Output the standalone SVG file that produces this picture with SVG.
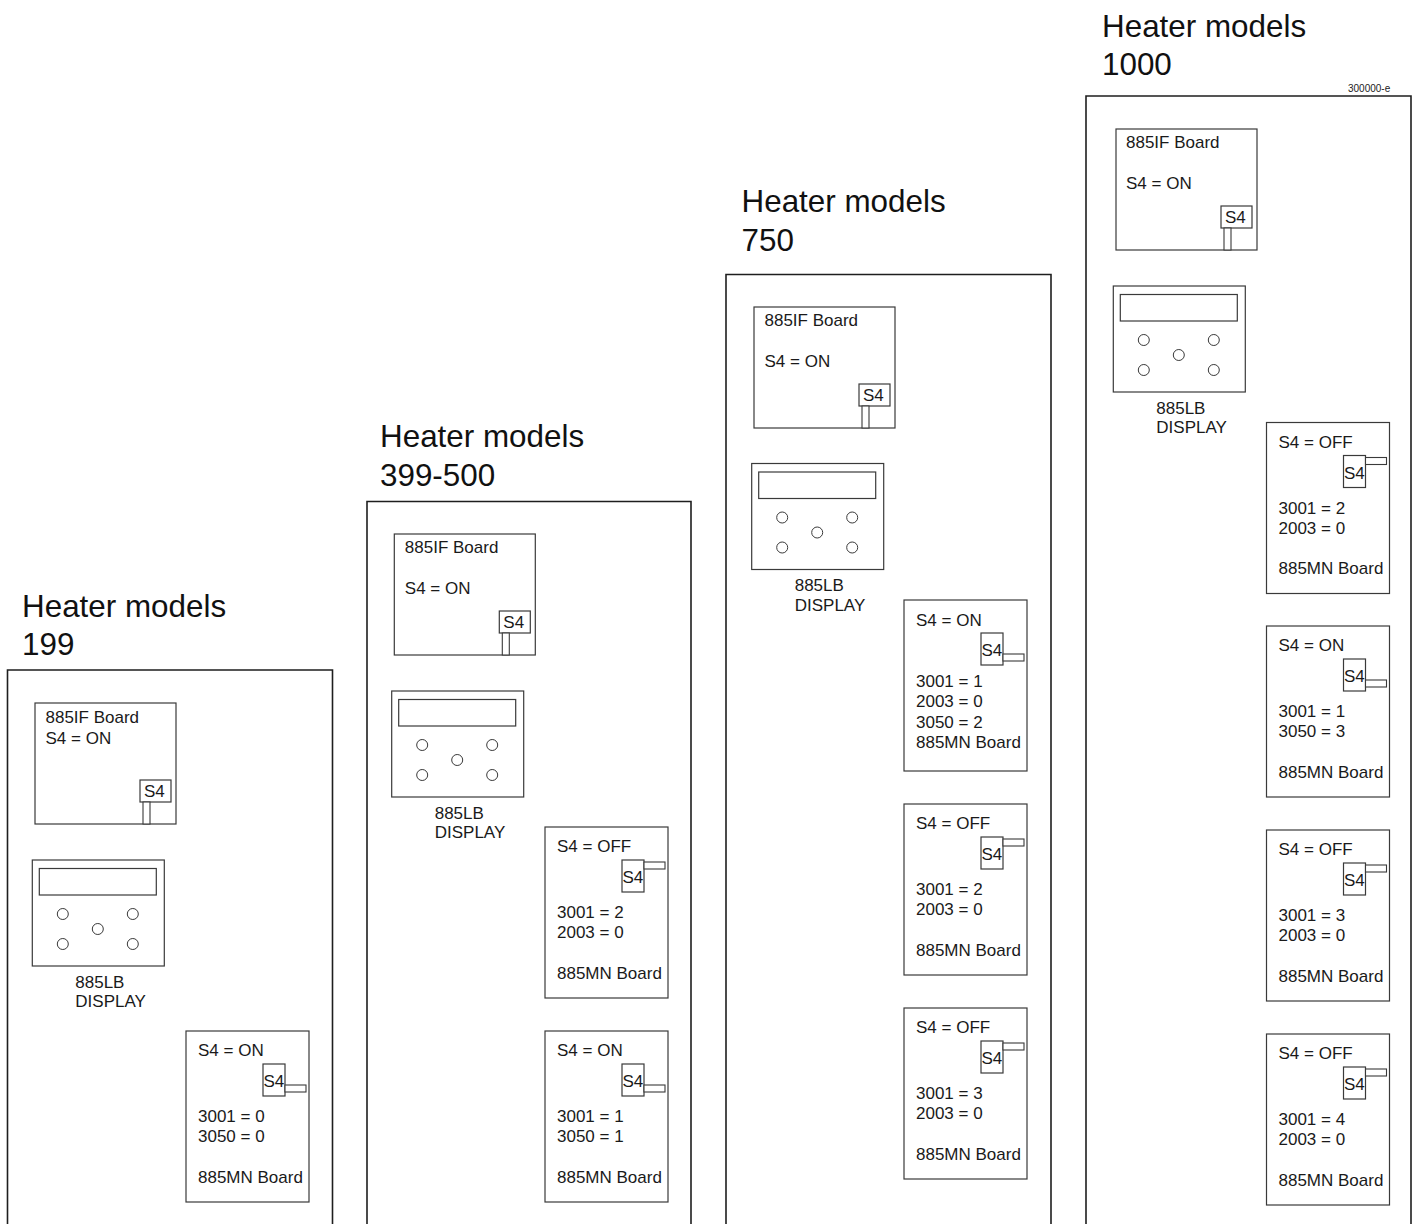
<svg xmlns="http://www.w3.org/2000/svg" width="1422" height="1224" viewBox="0 0 1422 1224">
<style>
.bg{fill:#fff}
.outer{fill:none;stroke:#1e1e1e;stroke-width:1.6}
.box{fill:#fff;stroke:#3a3a3a;stroke-width:1.2}
.lev{fill:#fff;stroke:#3a3a3a;stroke-width:1.1}
.btn{fill:#fff;stroke:#3a3a3a;stroke-width:1}
.t{font-family:"Liberation Sans",Arial,Helvetica,sans-serif;font-size:17px;fill:#1a1a1a}
.title{font-family:"Liberation Sans",Arial,Helvetica,sans-serif;font-size:31.4px;fill:#111}
.tiny{font-family:"Liberation Sans",Arial,Helvetica,sans-serif;font-size:10px;fill:#222}
</style>
<defs>
<g id="ifbase">
<rect class="box" x="0" y="0" width="141" height="121"/>
<rect class="box" x="105" y="77" width="31" height="22"/>
<text class="t" x="109" y="94">S4</text>
<rect class="lev" x="108" y="99" width="7" height="22"/>
</g>
<g id="disp">
<rect class="box" x="0" y="0" width="132" height="106"/>
<rect class="box" x="7" y="8.5" width="117" height="26.5"/>
<circle class="btn" cx="30.5" cy="54" r="5.5"/>
<circle class="btn" cx="100.5" cy="54" r="5.5"/>
<circle class="btn" cx="65.5" cy="69" r="5.5"/>
<circle class="btn" cx="30.5" cy="84" r="5.5"/>
<circle class="btn" cx="100.5" cy="84" r="5.5"/>
<text class="t" x="43" y="127.5">885LB</text>
<text class="t" x="43" y="147">DISPLAY</text>
</g>
<g id="mnbase">
<rect class="box" x="0" y="0" width="123" height="171"/>
<rect class="box" x="77" y="33" width="22" height="32"/>
<text class="t" x="77.5" y="56">S4</text>
</g>
<rect id="levon" class="lev" x="99" y="54" width="21" height="7"/>
<rect id="levoff" class="lev" x="99" y="35" width="21" height="7"/>
</defs>
<rect class="bg" x="0" y="0" width="1422" height="1224"/>

<g id="col-199">
<text class="title" x="22" y="617">Heater models</text>
<text class="title" x="22" y="655">199</text>
<path class="outer" d="M7.5 1230 V670 H332.5 V1230"/>
<g id="c1-if" transform="translate(35,703)">
<use href="#ifbase"/>
<text class="t" x="10.5" y="20">885IF Board</text>
<text class="t" x="10.5" y="40.5">S4 = ON</text>
</g>
<g id="c1-disp" transform="translate(32.3,860)"><use href="#disp"/></g>
<g id="c1-mn1" transform="translate(186,1031)">
<use href="#mnbase"/><use href="#levon"/>
<text class="t" x="12" y="25">S4 = ON</text>
<text class="t" x="12" y="91">3001 = 0</text>
<text class="t" x="12" y="111">3050 = 0</text>
<text class="t" x="12" y="151.5">885MN Board</text>
</g>
</g>

<g id="col-399-500">
<text class="title" x="380" y="447">Heater models</text>
<text class="title" x="380" y="486">399-500</text>
<path class="outer" d="M367 1230 V501.5 H691 V1230"/>
<g id="c2-if" transform="translate(394.3,534)">
<use href="#ifbase"/>
<text class="t" x="10.5" y="18.5">885IF Board</text>
<text class="t" x="10.5" y="59.5">S4 = ON</text>
</g>
<g id="c2-disp" transform="translate(391.7,691)"><use href="#disp"/></g>
<g id="c2-mn1" transform="translate(545,827)">
<use href="#mnbase"/><use href="#levoff"/>
<text class="t" x="12" y="25">S4 = OFF</text>
<text class="t" x="12" y="91">3001 = 2</text>
<text class="t" x="12" y="111">2003 = 0</text>
<text class="t" x="12" y="151.5">885MN Board</text>
</g>
<g id="c2-mn2" transform="translate(545,1031)">
<use href="#mnbase"/><use href="#levon"/>
<text class="t" x="12" y="25">S4 = ON</text>
<text class="t" x="12" y="91">3001 = 1</text>
<text class="t" x="12" y="111">3050 = 1</text>
<text class="t" x="12" y="151.5">885MN Board</text>
</g>
</g>

<g id="col-750">
<text class="title" x="741.5" y="212">Heater models</text>
<text class="title" x="741.5" y="250.5">750</text>
<path class="outer" d="M726 1230 V274.5 H1051 V1230"/>
<g id="c3-if" transform="translate(754,307)">
<use href="#ifbase"/>
<text class="t" x="10.5" y="18.5">885IF Board</text>
<text class="t" x="10.5" y="59.5">S4 = ON</text>
</g>
<g id="c3-disp" transform="translate(751.7,463.5)"><use href="#disp"/></g>
<g id="c3-mn1" transform="translate(904,600)">
<use href="#mnbase"/><use href="#levon"/>
<text class="t" x="12" y="25.5">S4 = ON</text>
<text class="t" x="12" y="87">3001 = 1</text>
<text class="t" x="12" y="107">2003 = 0</text>
<text class="t" x="12" y="127.5">3050 = 2</text>
<text class="t" x="12" y="148">885MN Board</text>
</g>
<g id="c3-mn2" transform="translate(904,804)">
<use href="#mnbase"/><use href="#levoff"/>
<text class="t" x="12" y="25">S4 = OFF</text>
<text class="t" x="12" y="91">3001 = 2</text>
<text class="t" x="12" y="111">2003 = 0</text>
<text class="t" x="12" y="151.5">885MN Board</text>
</g>
<g id="c3-mn3" transform="translate(904,1008)">
<use href="#mnbase"/><use href="#levoff"/>
<text class="t" x="12" y="25">S4 = OFF</text>
<text class="t" x="12" y="91">3001 = 3</text>
<text class="t" x="12" y="111">2003 = 0</text>
<text class="t" x="12" y="151.5">885MN Board</text>
</g>
</g>

<g id="col-1000">
<text class="title" x="1102" y="37">Heater models</text>
<text class="title" x="1102" y="74.5">1000</text>
<text class="tiny" x="1348" y="91.5">300000-e</text>
<path class="outer" d="M1086 1230 V96 H1411 V1230"/>
<g id="c4-if" transform="translate(1116,129)">
<use href="#ifbase"/>
<text class="t" x="10" y="19">885IF Board</text>
<text class="t" x="10" y="60">S4 = ON</text>
</g>
<g id="c4-disp" transform="translate(1113.3,286)"><use href="#disp"/></g>
<g id="c4-mn1" transform="translate(1266.5,422.5)">
<use href="#mnbase"/><use href="#levoff"/>
<text class="t" x="12" y="25">S4 = OFF</text>
<text class="t" x="12" y="91">3001 = 2</text>
<text class="t" x="12" y="111">2003 = 0</text>
<text class="t" x="12" y="151.5">885MN Board</text>
</g>
<g id="c4-mn2" transform="translate(1266.5,626)">
<use href="#mnbase"/><use href="#levon"/>
<text class="t" x="12" y="25">S4 = ON</text>
<text class="t" x="12" y="91">3001 = 1</text>
<text class="t" x="12" y="111">3050 = 3</text>
<text class="t" x="12" y="151.5">885MN Board</text>
</g>
<g id="c4-mn3" transform="translate(1266.5,830)">
<use href="#mnbase"/><use href="#levoff"/>
<text class="t" x="12" y="25">S4 = OFF</text>
<text class="t" x="12" y="91">3001 = 3</text>
<text class="t" x="12" y="111">2003 = 0</text>
<text class="t" x="12" y="151.5">885MN Board</text>
</g>
<g id="c4-mn4" transform="translate(1266.5,1034)">
<use href="#mnbase"/><use href="#levoff"/>
<text class="t" x="12" y="25">S4 = OFF</text>
<text class="t" x="12" y="91">3001 = 4</text>
<text class="t" x="12" y="111">2003 = 0</text>
<text class="t" x="12" y="151.5">885MN Board</text>
</g>
</g>
</svg>
